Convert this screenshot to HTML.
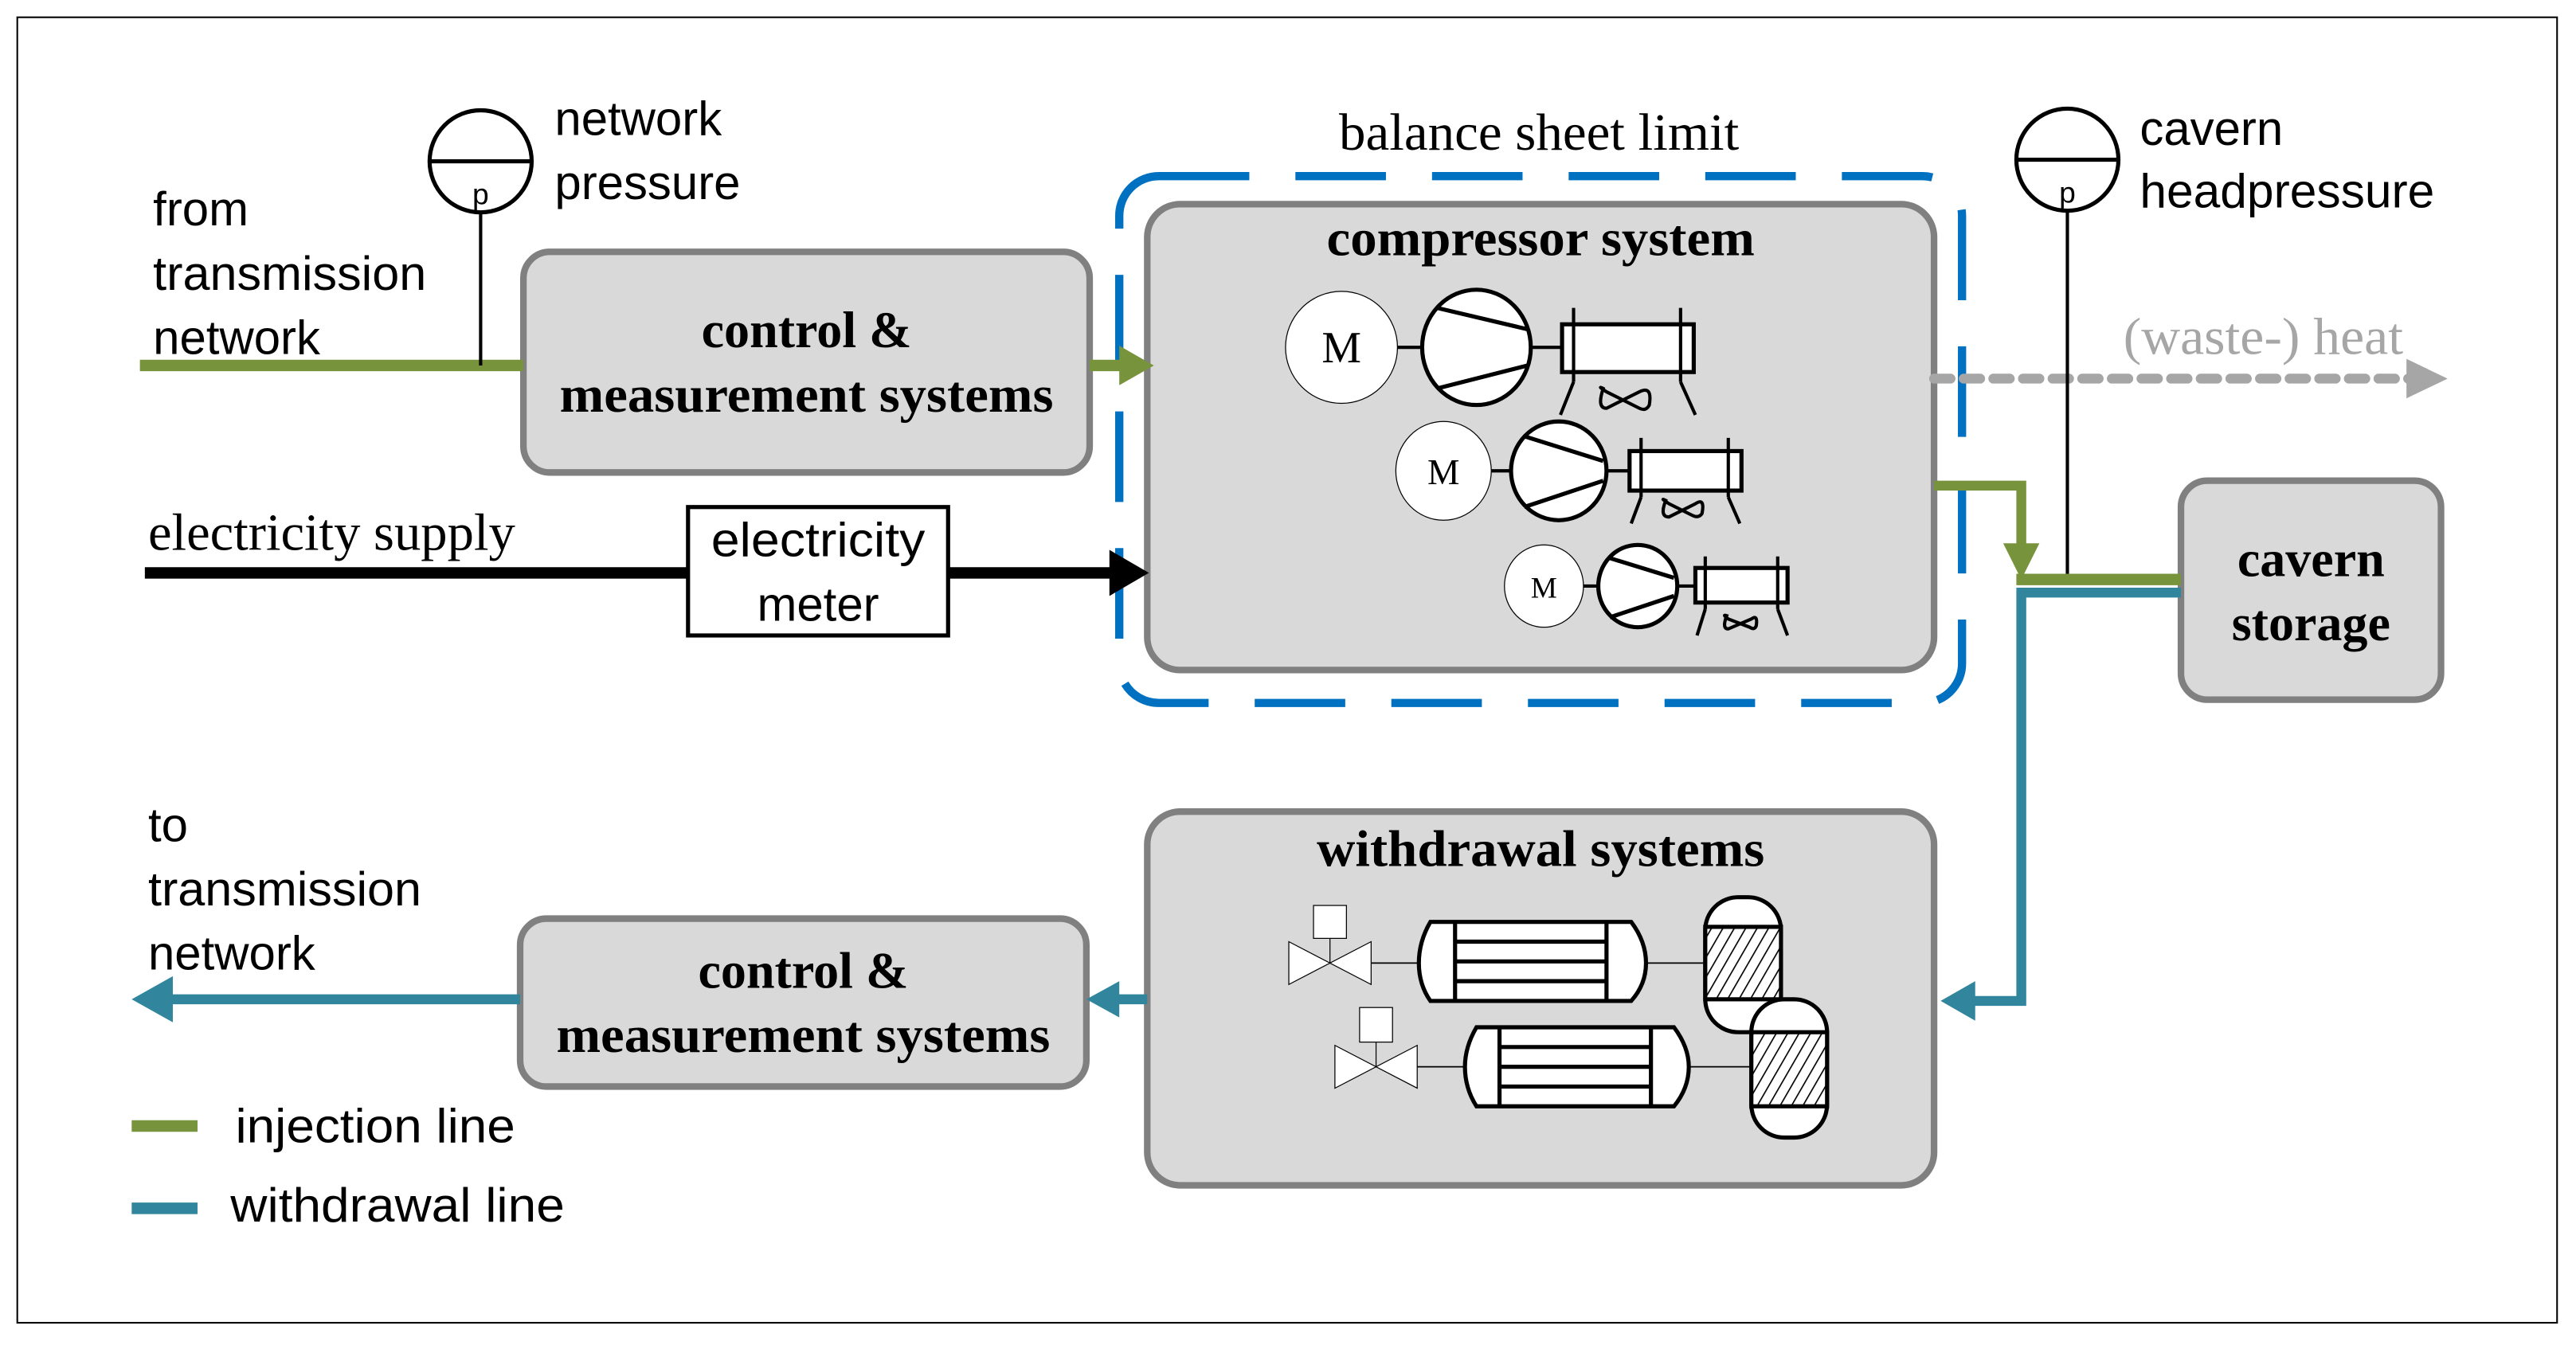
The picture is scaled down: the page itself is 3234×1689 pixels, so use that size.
<!DOCTYPE html>
<html><head><meta charset="utf-8"><style>
html,body{margin:0;padding:0;background:#fff;}
svg{display:block;}
.sans{font-family:"Liberation Sans",sans-serif;}
.serif{font-family:"Liberation Serif",serif;}
</style></head><body>
<svg width="3234" height="1689" viewBox="0 0 1565 817" preserveAspectRatio="none" xmlns="http://www.w3.org/2000/svg">
<rect x="0" y="0" width="1565" height="817" fill="#fff"/>
<rect x="10.5" y="10.5" width="1543" height="793" fill="none" stroke="#000" stroke-width="1"/>

<!-- dashed balance sheet limit -->
<rect x="680" y="107" width="512" height="320" rx="24" fill="none" stroke="#0070c0" stroke-width="5" stroke-dasharray="55,28"/>
<text x="935" y="91" class="serif" font-size="32" text-anchor="middle" textLength="243" lengthAdjust="spacingAndGlyphs">balance sheet limit</text>

<!-- boxes -->
<rect x="318" y="153" width="344" height="134" rx="16" fill="#d9d9d9" stroke="#808080" stroke-width="4"/>
<text x="490" y="211" class="serif" font-size="31" font-weight="bold" text-anchor="middle">control &amp;</text>
<text x="490" y="250" class="serif" font-size="31" font-weight="bold" text-anchor="middle" textLength="300" lengthAdjust="spacingAndGlyphs">measurement systems</text>

<rect x="697" y="124" width="478" height="283" rx="20" fill="#d9d9d9" stroke="#808080" stroke-width="4"/>
<text x="936" y="155" class="serif" font-size="31" font-weight="bold" text-anchor="middle" textLength="260" lengthAdjust="spacingAndGlyphs">compressor system</text>

<rect x="1325" y="292" width="158" height="133" rx="16" fill="#d9d9d9" stroke="#808080" stroke-width="4"/>
<text x="1404" y="350" class="serif" font-size="31" font-weight="bold" text-anchor="middle">cavern</text>
<text x="1404" y="389" class="serif" font-size="31" font-weight="bold" text-anchor="middle">storage</text>

<rect x="697" y="493" width="478" height="227" rx="20" fill="#d9d9d9" stroke="#808080" stroke-width="4"/>
<text x="936" y="526" class="serif" font-size="31" font-weight="bold" text-anchor="middle" textLength="272" lengthAdjust="spacingAndGlyphs">withdrawal systems</text>

<rect x="316" y="558" width="344" height="102" rx="16" fill="#d9d9d9" stroke="#808080" stroke-width="4"/>
<text x="488" y="600" class="serif" font-size="31" font-weight="bold" text-anchor="middle">control &amp;</text>
<text x="488" y="639" class="serif" font-size="31" font-weight="bold" text-anchor="middle" textLength="300" lengthAdjust="spacingAndGlyphs">measurement systems</text>

<!-- injection from network -->
<line x1="85" y1="222" x2="318" y2="222" stroke="#77933c" stroke-width="7"/>
<line x1="662" y1="222" x2="684" y2="222" stroke="#77933c" stroke-width="7"/>
<polygon points="680,210 701,222 680,234" fill="#77933c"/>
<!-- network pressure gauge -->
<line x1="292" y1="130" x2="292" y2="222" stroke="#000" stroke-width="2"/>
<circle cx="292" cy="98" r="31" fill="#fff" stroke="#000" stroke-width="2.5"/>
<line x1="261" y1="98" x2="323" y2="98" stroke="#000" stroke-width="2.5"/>
<text x="292" y="124" class="sans" font-size="18" text-anchor="middle">p</text>
<text x="337" y="82" class="sans" font-size="29">network</text>
<text x="337" y="121" class="sans" font-size="29">pressure</text>
<text x="93" y="137" class="sans" font-size="29">from</text>
<text x="93" y="176" class="sans" font-size="29" textLength="166" lengthAdjust="spacingAndGlyphs">transmission</text>
<text x="93" y="215" class="sans" font-size="29">network</text>

<!-- electricity -->
<text x="90" y="334" class="serif" font-size="32" textLength="223" lengthAdjust="spacingAndGlyphs">electricity supply</text>
<line x1="88" y1="348" x2="418" y2="348" stroke="#000" stroke-width="7"/>
<line x1="576" y1="348" x2="680" y2="348" stroke="#000" stroke-width="7"/>
<polygon points="674,334 698,348 674,362" fill="#000"/>
<rect x="418" y="308" width="158" height="78" fill="#fff" stroke="#000" stroke-width="2.5"/>
<text x="497" y="338" class="sans" font-size="29" text-anchor="middle" textLength="130" lengthAdjust="spacingAndGlyphs">electricity</text>
<text x="497" y="377" class="sans" font-size="29" text-anchor="middle">meter</text>

<!-- waste heat -->
<line x1="1175" y1="230" x2="1465" y2="230" stroke="#a6a6a6" stroke-width="6" stroke-dasharray="10,8" stroke-linecap="round"/>
<polygon points="1462,218 1487,230 1462,242" fill="#a6a6a6"/>
<text x="1375" y="215" class="serif" font-size="32" fill="#a6a6a6" text-anchor="middle" textLength="170" lengthAdjust="spacingAndGlyphs">(waste-) heat</text>

<!-- cavern gauge -->
<line x1="1256" y1="128" x2="1256" y2="352" stroke="#000" stroke-width="2"/>
<circle cx="1256" cy="97" r="31" fill="#fff" stroke="#000" stroke-width="2.5"/>
<line x1="1225" y1="97" x2="1287" y2="97" stroke="#000" stroke-width="2.5"/>
<text x="1256" y="123" class="sans" font-size="18" text-anchor="middle">p</text>
<text x="1300" y="88" class="sans" font-size="29">cavern</text>
<text x="1300" y="126" class="sans" font-size="29" textLength="179" lengthAdjust="spacingAndGlyphs">headpressure</text>

<!-- injection to cavern -->
<polyline points="1175,295 1228,295 1228,334" fill="none" stroke="#77933c" stroke-width="6"/>
<polygon points="1217,330 1228,352 1239,330" fill="#77933c"/>
<line x1="1225" y1="352" x2="1325" y2="352" stroke="#77933c" stroke-width="7"/>
<!-- withdrawal from cavern -->
<polyline points="1325,360 1228,360 1228,608 1195,608" fill="none" stroke="#31859c" stroke-width="6"/>
<polygon points="1200,596 1179,608 1200,620" fill="#31859c"/>
<line x1="697" y1="607" x2="675" y2="607" stroke="#31859c" stroke-width="6"/>
<polygon points="680,596 660,607 680,618" fill="#31859c"/>
<line x1="316" y1="607" x2="100" y2="607" stroke="#31859c" stroke-width="6"/>
<polygon points="105,593 80,607 105,621" fill="#31859c"/>
<text x="90" y="511" class="sans" font-size="29">to</text>
<text x="90" y="550" class="sans" font-size="29" textLength="166" lengthAdjust="spacingAndGlyphs">transmission</text>
<text x="90" y="589" class="sans" font-size="29">network</text>

<!-- legend -->
<line x1="80" y1="684" x2="120" y2="684" stroke="#77933c" stroke-width="7"/>
<text x="143" y="694" class="sans" font-size="29" textLength="170" lengthAdjust="spacingAndGlyphs">injection line</text>
<line x1="80" y1="734" x2="120" y2="734" stroke="#31859c" stroke-width="7"/>
<text x="140" y="742" class="sans" font-size="29" textLength="203" lengthAdjust="spacingAndGlyphs">withdrawal line</text>

<!-- compressors -->
<g stroke="#000" fill="#fff">
 <line x1="849" y1="211" x2="865" y2="211" stroke-width="2"/>
 <line x1="931" y1="211" x2="948" y2="211" stroke-width="2"/>
 <ellipse cx="815" cy="211" rx="34" ry="34" stroke-width="0.6"/>
 <ellipse cx="897" cy="211" rx="33" ry="35" stroke-width="2.5"/>
 <line x1="873" y1="187" x2="928" y2="200" stroke-width="2.5"/>
 <line x1="873" y1="236" x2="928" y2="222" stroke-width="2.5"/>
 <rect x="949" y="197" width="80" height="29" stroke-width="2.5"/>
 <line x1="956" y1="187" x2="956" y2="232" stroke-width="2"/>
 <line x1="1021" y1="187" x2="1021" y2="232" stroke-width="2"/>
 <polyline points="956,232 948,252" fill="none" stroke-width="2"/>
 <polyline points="1021,232 1030,252" fill="none" stroke-width="2"/>
 <path d="M974,236 Q970,248 976,248 L996,238 Q1004,234 1002,246 Q1000,250 996,248 L976,238 Q970,234 974,236 Z" fill="none" stroke-width="2"/>
 <line x1="906" y1="286" x2="918" y2="286" stroke-width="2"/>
 <line x1="976" y1="286" x2="990" y2="286" stroke-width="2"/>
 <ellipse cx="877" cy="286" rx="29" ry="30" stroke-width="0.6"/>
 <ellipse cx="947" cy="286" rx="29" ry="30" stroke-width="2.5"/>
 <line x1="926" y1="265" x2="974" y2="280" stroke-width="2.5"/>
 <line x1="926" y1="308" x2="974" y2="292" stroke-width="2.5"/>
 <rect x="990" y="274" width="68" height="24" stroke-width="2.5"/>
 <line x1="997" y1="266" x2="997" y2="302" stroke-width="2"/>
 <line x1="1050" y1="266" x2="1050" y2="302" stroke-width="2"/>
 <polyline points="997,302 991,318" fill="none" stroke-width="2"/>
 <polyline points="1050,302 1057,318" fill="none" stroke-width="2"/>
 <path d="M1012,304 Q1008,314 1014,314 L1030,306 Q1036,302 1034,312 Q1032,315 1028,313 L1014,306 Q1008,302 1012,304 Z" fill="none" stroke-width="2"/>
 <line x1="962" y1="356" x2="972" y2="356" stroke-width="2"/>
 <line x1="1019" y1="356" x2="1030" y2="356" stroke-width="2"/>
 <ellipse cx="938" cy="356" rx="24" ry="25" stroke-width="0.6"/>
 <ellipse cx="995" cy="356" rx="24" ry="25" stroke-width="2.5"/>
 <line x1="978" y1="339" x2="1017" y2="351" stroke-width="2.5"/>
 <line x1="978" y1="375" x2="1017" y2="362" stroke-width="2.5"/>
 <rect x="1030" y="345" width="56" height="21" stroke-width="2.5"/>
 <line x1="1036" y1="338" x2="1036" y2="370" stroke-width="2"/>
 <line x1="1080" y1="338" x2="1080" y2="370" stroke-width="2"/>
 <polyline points="1036,370 1031,386" fill="none" stroke-width="2"/>
 <polyline points="1080,370 1086,386" fill="none" stroke-width="2"/>
 <path d="M1049,374 Q1046,382 1050,382 L1064,376 Q1068,373 1067,380 Q1066,383 1063,381 L1050,376 Q1046,373 1049,374 Z" fill="none" stroke-width="2"/>
</g>
<text x="815" y="220" class="serif" font-size="27" text-anchor="middle">M</text>
<text x="877" y="294" class="serif" font-size="22" text-anchor="middle">M</text>
<text x="938" y="363" class="serif" font-size="18" text-anchor="middle">M</text>

<!-- withdrawal equipment -->
<defs>
<pattern id="h" width="6" height="6" patternUnits="userSpaceOnUse" patternTransform="rotate(30)">
<rect width="6" height="6" fill="#fff"/><line x1="0" y1="0" x2="0" y2="6" stroke="#000" stroke-width="1.6"/></pattern>
</defs>
<g stroke="#000" fill="#fff">
 <line x1="833" y1="585" x2="862" y2="585" stroke-width="0.8"/>
 <line x1="1000" y1="585" x2="1036" y2="585" stroke-width="0.8"/>
 <line x1="808" y1="570" x2="808" y2="585" stroke-width="0.6"/>
 <rect x="798" y="550" width="20" height="20" stroke-width="0.6"/>
 <polygon points="783,572 808,585 783,598" stroke-width="0.6"/>
 <polygon points="833,572 808,585 833,598" stroke-width="0.6"/>
 <path d="M869,560 L991,560 Q1000,572 1000,585 Q1000,598 991,608 L869,608 Q862,598 862,585 Q862,572 869,560 Z" stroke-width="2.5"/>
 <line x1="884" y1="560" x2="884" y2="608" stroke-width="2.5"/>
 <line x1="976" y1="560" x2="976" y2="608" stroke-width="2.5"/>
 <line x1="884" y1="572" x2="976" y2="572" stroke-width="2.5"/>
 <line x1="884" y1="584" x2="976" y2="584" stroke-width="2.5"/>
 <line x1="884" y1="596" x2="976" y2="596" stroke-width="2.5"/>
 <rect x="1036" y="545" width="46" height="82" rx="20" stroke-width="2.5"/>
 <rect x="1036" y="563" width="46" height="44" fill="url(#h)" stroke-width="2.5"/>
 <line x1="861" y1="648" x2="890" y2="648" stroke-width="0.8"/>
 <line x1="1026" y1="648" x2="1064" y2="648" stroke-width="0.8"/>
 <line x1="836" y1="633" x2="836" y2="648" stroke-width="0.6"/>
 <rect x="826" y="612" width="20" height="21" stroke-width="0.6"/>
 <polygon points="811,635 836,648 811,661" stroke-width="0.6"/>
 <polygon points="861,635 836,648 861,661" stroke-width="0.6"/>
 <path d="M897,624 L1017,624 Q1026,636 1026,648 Q1026,661 1017,672 L897,672 Q890,661 890,648 Q890,636 897,624 Z" stroke-width="2.5"/>
 <line x1="911" y1="624" x2="911" y2="672" stroke-width="2.5"/>
 <line x1="1003" y1="624" x2="1003" y2="672" stroke-width="2.5"/>
 <line x1="911" y1="636" x2="1003" y2="636" stroke-width="2.5"/>
 <line x1="911" y1="648" x2="1003" y2="648" stroke-width="2.5"/>
 <line x1="911" y1="660" x2="1003" y2="660" stroke-width="2.5"/>
 <rect x="1064" y="607" width="46" height="84" rx="20" stroke-width="2.5"/>
 <rect x="1064" y="627" width="46" height="45" fill="url(#h)" stroke-width="2.5"/>
</g>
</svg>
</body></html>
